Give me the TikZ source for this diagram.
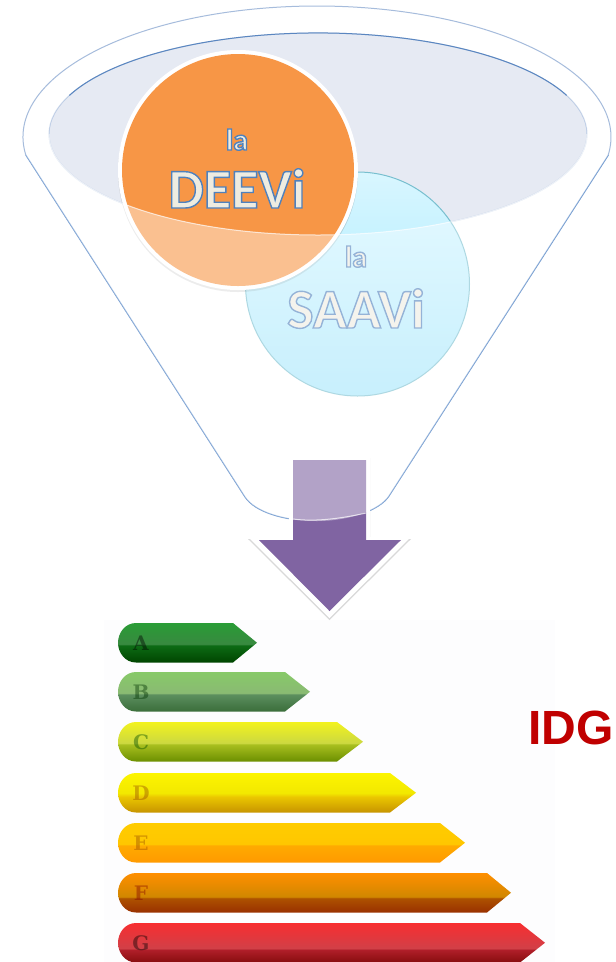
\documentclass[tikz,border=0pt]{standalone}
\usepackage{fontspec}
\setmainfont{Carlito}
\newfontfamily\slabfont{DejaVu Serif}[BoldFont={DejaVu Serif Bold}]
\newfontfamily\labelfont{Liberation Sans}
\definecolor{glasslineA}{HTML}{7099CF}
\definecolor{glasslineB}{HTML}{B4C6E2}
\definecolor{glasslineC}{HTML}{5A86C0}
\definecolor{rimline}{HTML}{A6BCDC}
\definecolor{bubbleline}{HTML}{78BFCF}
\definecolor{hollow}{HTML}{E6EAF3}
\definecolor{orangefill}{HTML}{F79646}
\definecolor{violetfill}{HTML}{8064A2}
\definecolor{creamtext}{HTML}{EEECE1}
\definecolor{idgred}{HTML}{C00000}
\definecolor{panel}{HTML}{FDFDFE}
\pgfdeclareverticalshading{barA}{100bp}{rgb(0bp)=(0,.27,0); rgb(25bp)=(0,.27,0); rgb(46.5bp)=(.05,.42,.08); rgb(48.5bp)=(.22,.54,.25); rgb(75bp)=(.16,.61,.21); rgb(100bp)=(.16,.61,.21)}
\pgfdeclareverticalshading{barB}{100bp}{rgb(0bp)=(.23,.43,.23); rgb(25bp)=(.23,.43,.23); rgb(46.5bp)=(.36,.56,.37); rgb(48.5bp)=(.54,.73,.45); rgb(75bp)=(.53,.79,.41); rgb(100bp)=(.53,.79,.41)}
\pgfdeclareverticalshading{barC}{100bp}{rgb(0bp)=(.42,.56,0); rgb(25bp)=(.42,.56,0); rgb(46.5bp)=(.66,.75,.12); rgb(48.5bp)=(.80,.85,.25); rgb(75bp)=(.95,.95,.12); rgb(100bp)=(.95,.95,.12)}
\pgfdeclareverticalshading{barD}{100bp}{rgb(0bp)=(.78,.58,0); rgb(25bp)=(.78,.58,0); rgb(45bp)=(.92,.78,0); rgb(49.5bp)=(.95,.91,0); rgb(75bp)=(.99,.96,0); rgb(100bp)=(.99,.96,0)}
\pgfdeclareverticalshading{barE}{100bp}{rgb(0bp)=(1,.60,0); rgb(25bp)=(1,.60,0); rgb(46.5bp)=(1,.67,0); rgb(48.5bp)=(1,.78,0); rgb(75bp)=(1,.80,0); rgb(100bp)=(1,.80,0)}
\pgfdeclareverticalshading{barF}{100bp}{rgb(0bp)=(.60,.19,0); rgb(25bp)=(.60,.19,0); rgb(43bp)=(.68,.32,0); rgb(45bp)=(.82,.53,0); rgb(75bp)=(1,.56,0); rgb(100bp)=(1,.56,0)}
\pgfdeclareverticalshading{barG}{100bp}{rgb(0bp)=(.53,.05,.06); rgb(25bp)=(.53,.05,.06); rgb(41bp)=(.69,.12,.16); rgb(43bp)=(.82,.25,.28); rgb(75bp)=(.97,.18,.19); rgb(100bp)=(.97,.18,.19)}
\pgfdeclareverticalshading{bubble}{100bp}{rgb(0bp)=(.64,.90,.99); rgb(25bp)=(.64,.90,.99); rgb(60.6bp)=(.78,.95,1); rgb(75bp)=(.85,.965,1); rgb(100bp)=(.85,.965,1)}
\newcommand{\outlined}[1]{\special{pdf:code 2 Tr 1.4 w 0.31 0.506 0.741 RG}#1\special{pdf:code 0 Tr}}
\tikzset{
  glowtext/.style={text=creamtext,inner sep=0pt,anchor=base},
  bartext/.style={inner sep=0pt,anchor=base,font=\slabfont\bfseries\fontsize{20pt}{20pt}\selectfont,text opacity=.42},
}
\begin{document}
\begin{tikzpicture}[x=1pt,y=-1pt]
\useasboundingbox (0,0) rectangle (616,962);
\fill[white] (0,0) rectangle (616,962);
\fill[panel] (104,620) rectangle (555,962);
% open mouth of the funnel
\fill[hollow] (318,134) ellipse [x radius=269pt,y radius=101pt];
\draw[glasslineB,line width=1pt] (318,134) ellipse [x radius=269pt,y radius=101pt];
% SAAVi circle
\shade[shading=bubble] (357.5,284) circle [radius=112pt];
\draw[bubbleline,line width=1pt] (357.5,284) circle [radius=112pt];
\node[glowtext,font=\bfseries\fontsize{30pt}{30pt}\selectfont] (laS) at (356,267) {\outlined{la}};
\node[glowtext,font=\bfseries\fontsize{56pt}{56pt}\selectfont] (saavi) at (356,328) {\outlined{SAAVi}};
% funnel outline
\draw[glasslineA,line width=1.1pt,line join=round]
  (25.8,155) -- (245,497) .. controls (255,512) and (284,521) .. (317,521)
  .. controls (350,521) and (380,510) .. (389,496) -- (608.4,155);
% arrow
\fill[black,opacity=.15] (289,458) -- (370,458) -- (370,539) -- (411,539) -- (329.5,620) -- (248,539) -- (289,539) -- cycle;
\fill[white] (289,456) -- (370,456) -- (370,537) -- (411,537) -- (329.5,618) -- (248,537) -- (289,537) -- cycle;
\fill[violetfill] (293,460) -- (366,460) -- (366,540) -- (401,540) -- (329.5,611) -- (259,540) -- (293,540) -- cycle;
% DEEVi circle
\fill[black,opacity=.12] (238,172) circle [radius=120pt];
\fill[white] (238,170) circle [radius=120pt];
\fill[orangefill] (238,170) circle [radius=116pt];
\node[glowtext,font=\bfseries\fontsize{30pt}{30pt}\selectfont] (laD) at (237,150) {\outlined{la}};
\node[glowtext,font=\bfseries\fontsize{56pt}{56pt}\selectfont] (deevi) at (237,208) {\outlined{DEEVi}};
% glass wall over everything inside the funnel
\fill[white,opacity=.4,even odd rule]
  (25.8,155) arc[start angle=187.9,end angle=-7.9,x radius=294pt,y radius=131pt]
  -- (389,496) .. controls (380,510) and (350,521) .. (317,521)
  .. controls (284,521) and (255,512) .. (245,497) -- cycle
  (318,134) ellipse [x radius=269pt,y radius=101pt];
\draw[rimline,line width=1pt]
  (25.8,155) arc[start angle=187.9,end angle=-7.9,x radius=294pt,y radius=131pt];
\draw[white,opacity=.7,line width=1pt] (49,134) arc[start angle=180,end angle=360,x radius=269pt,y radius=101pt];
\draw[white,opacity=.7,line width=1pt] (293,519) .. controls (308,521) and (330,521) .. (366,513);
\draw[glasslineC,line width=1pt,line cap=round] (69.5,95.3) arc[start angle=157.5,end angle=22.5,x radius=269pt,y radius=101pt];
% energy bars
\foreach \letter/\topy/\shoulder/\tip/\ink in {
  A/623/233/257/black,
  B/672/285/310/black!60!green!50!black,
  C/722/337/363/green!30!black,
  D/773/390/416/orange!60!black,
  E/823/440/465/orange!60!black,
  F/873/487/511/red!50!black,
  G/923/520/545/black}{
  \pgfmathsetmacro{\boty}{\topy+39.5}
  \pgfmathsetmacro{\midy}{\topy+19.75}
  \path[shading=bar\letter] (136,\topy) -- (\shoulder,\topy) -- (\tip,\midy) -- (\shoulder,\boty) -- (136,\boty)
     .. controls (125,\boty) and (118,\boty-10) .. (118,\midy) .. controls (118,\topy+10) and (125,\topy) .. (136,\topy) -- cycle;
  \node[bartext,text=\ink] (bar\letter) at (141,\topy+27) {\letter};
}
\node[inner sep=0pt,anchor=base west,text=idgred,font=\labelfont\bfseries\fontsize{48pt}{48pt}\selectfont] (idg) at (528,744) {IDG};
\end{tikzpicture}
\end{document}
